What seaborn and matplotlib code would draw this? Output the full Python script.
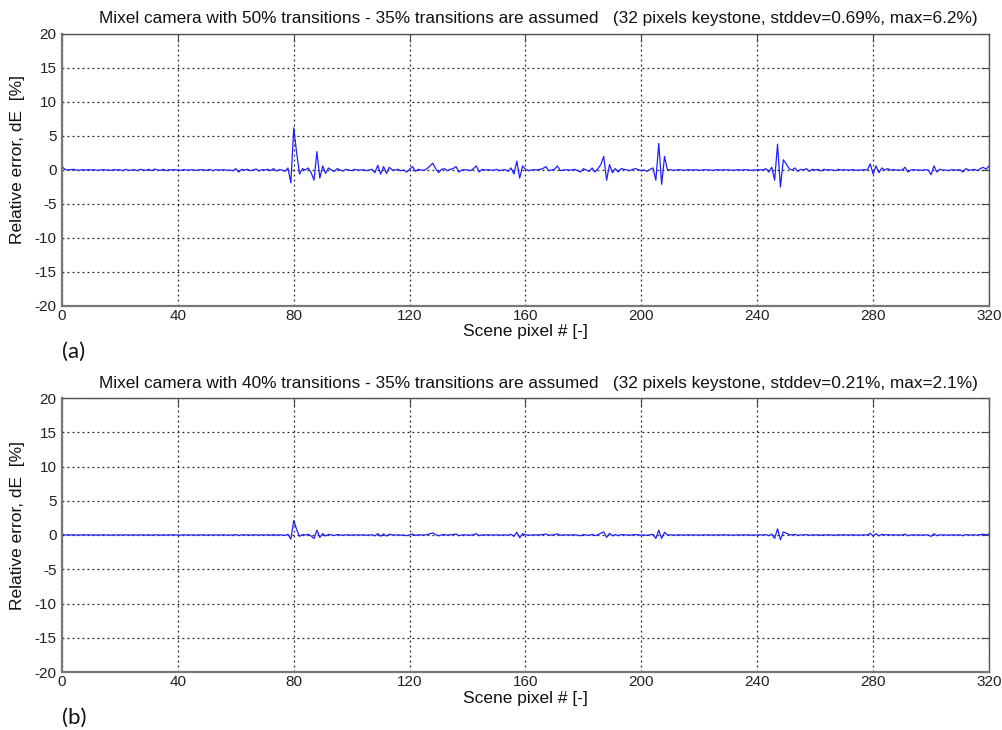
import matplotlib
matplotlib.use("Agg")
import matplotlib.pyplot as plt
import numpy as np
import pandas as pd
import seaborn as sns

# ---------------- data ----------------
scene_pixel = list(range(0, 321))

err_a = [
    0.5, 0.1, 0.0, 0.05, 0.1, 0.0, -0.05, 0.05, 0.0, 0.05,
    0.0, 0.05, -0.05, 0.0, 0.05, 0.0, 0.0, -0.05, 0.05, 0.0,
    0.05, -0.1, 0.1, -0.05, 0.0, 0.05, -0.1, 0.1, 0.0, -0.05,
    0.1, -0.1, 0.15, 0.0, -0.05, 0.1, -0.1, 0.05, 0.0, 0.05,
    0.0, -0.05, 0.05, 0.0, 0.0, 0.05, -0.05, 0.0, 0.05, 0.0,
    -0.05, 0.1, -0.1, 0.05, 0.0, 0.0, 0.05, -0.05, 0.0, -0.1,
    0.2, -0.3, 0.1, 0.0, 0.1, -0.1, 0.0, 0.15, -0.15, 0.05,
    0.0, 0.1, -0.1, 0.2, -0.15, 0.05, 0.0, -0.2, 0.3, -1.9,
    6.2, 2.5, -0.6, 0.2, 0.0, 0.3, -0.4, -1.5, 2.7, -1.2,
    0.6, -0.5, 0.3, 0.0, -0.2, 0.2, 0.0, -0.15, 0.1, 0.0,
    -0.1, 0.1, 0.0, 0.0, 0.05, -0.1, 0.0, 0.1, -0.4, 0.7,
    -0.6, 0.5, -0.5, 0.4, 0.0, 0.0, 0.1, -0.1, 0.0, -0.3,
    0.1, 0.5, -0.2, 0.1, 0.0, -0.05, 0.2, 0.6, 1.0, 0.2,
    -0.4, 0.1, 0.2, -0.1, 0.1, 0.2, 0.5, -0.3, 0.0, 0.05,
    0.0, -0.1, 0.2, 0.6, -0.3, 0.1, 0.0, 0.05, 0.0, -0.05,
    0.1, -0.1, 0.0, 0.05, -0.2, 0.3, -0.6, 1.3, -1.2, 0.6,
    0.1, -0.1, 0.0, 0.05, 0.0, 0.1, 0.2, 0.5, -0.1, 0.0,
    0.1, 0.6, -0.1, 0.0, 0.05, 0.0, 0.0, 0.1, -0.1, -0.3,
    0.2, 0.0, -0.2, 0.3, -0.3, 0.2, 0.8, 2.0, -1.5, 0.8,
    -0.4, 0.2, -0.3, 0.2, 0.1, 0.0, -0.1, 0.1, 0.2, 0.05,
    -0.1, 0.0, -0.2, 0.1, 0.3, -1.5, 3.9, -2.1, 2.0, 0.0,
    0.05, -0.05, 0.0, 0.05, 0.0, -0.05, 0.05, 0.0, 0.0, 0.05,
    -0.05, 0.0, 0.05, 0.0, 0.0, -0.05, 0.05, 0.0, 0.0, 0.05,
    0.0, 0.0, -0.05, 0.05, 0.0, 0.0, 0.05, 0.0, -0.05, 0.0,
    0.0, 0.05, 0.0, 0.2, -0.3, 0.4, -1.5, 3.8, -2.5, 1.5,
    0.9, 0.2, 0.0, 0.3, -0.2, 0.1, 0.0, 0.2, -0.2, 0.1,
    0.0, 0.1, -0.15, 0.1, 0.0, 0.05, 0.0, -0.1, 0.1, 0.0,
    0.05, 0.0, 0.0, 0.05, -0.05, 0.0, 0.0, 0.05, 0.0, 0.9,
    -0.6, 0.6, -0.4, 0.3, 0.0, 0.2, 0.0, 0.05, 0.0, 0.0,
    0.0, 0.4, -0.3, 0.0, 0.05, 0.0, 0.0, -0.05, 0.05, 0.0,
    -0.7, 0.6, -0.3, 0.1, 0.0, 0.0, -0.1, 0.05, 0.0, 0.0,
    0.05, -0.3, 0.2, 0.0, 0.0, 0.1, -0.1, 0.2, 0.4, 0.1,
    0.6,
]

err_b = [
    0.1, 0.0, 0.03, 0.0, 0.02, 0.0, -0.02, 0.03, 0.0, 0.02,
    0.0, 0.02, -0.02, 0.0, 0.02, 0.0, 0.0, -0.02, 0.02, 0.0,
    0.02, -0.03, 0.03, -0.02, 0.0, 0.02, -0.03, 0.03, 0.0, -0.02,
    0.03, -0.03, 0.04, 0.0, -0.02, 0.03, -0.03, 0.02, 0.0, 0.02,
    0.0, -0.02, 0.02, 0.0, 0.0, 0.02, -0.02, 0.0, 0.02, 0.0,
    -0.02, 0.03, -0.03, 0.02, 0.0, 0.0, 0.02, -0.02, 0.0, -0.03,
    0.06, -0.08, 0.03, 0.0, 0.03, -0.03, 0.0, 0.04, -0.04, 0.02,
    0.0, 0.03, -0.03, 0.05, -0.04, 0.02, 0.0, -0.06, 0.1, -0.6,
    2.1, 0.8, -0.2, 0.06, 0.0, 0.1, -0.15, -0.5, 0.7, -0.35,
    0.2, -0.15, 0.1, 0.0, -0.06, 0.06, 0.0, -0.05, 0.03, 0.0,
    -0.03, 0.03, 0.0, 0.0, 0.02, -0.03, 0.0, 0.03, -0.12, 0.2,
    -0.18, 0.15, -0.15, 0.12, 0.0, 0.0, 0.03, -0.03, 0.0, -0.1,
    0.03, 0.15, -0.06, 0.03, 0.0, -0.02, 0.06, 0.18, 0.3, 0.06,
    -0.12, 0.03, 0.06, -0.03, 0.03, 0.06, 0.15, -0.1, 0.0, 0.02,
    0.0, -0.03, 0.06, 0.18, -0.1, 0.03, 0.0, 0.02, 0.0, -0.02,
    0.03, -0.03, 0.0, 0.02, -0.06, 0.1, -0.2, 0.4, -0.4, 0.2,
    0.03, -0.03, 0.0, 0.02, 0.0, 0.03, 0.06, 0.15, -0.03, 0.0,
    0.03, 0.18, -0.03, 0.0, 0.02, 0.0, 0.0, 0.03, -0.03, -0.1,
    0.06, 0.0, -0.06, 0.1, -0.1, 0.06, 0.25, 0.45, -0.35, 0.25,
    -0.12, 0.06, -0.1, 0.06, 0.03, 0.0, -0.03, 0.03, 0.06, 0.02,
    -0.03, 0.0, -0.06, 0.03, 0.1, -0.5, 0.7, -0.5, 0.4, 0.0,
    0.02, -0.02, 0.0, 0.02, 0.0, -0.02, 0.02, 0.0, 0.0, 0.02,
    -0.02, 0.0, 0.02, 0.0, 0.0, -0.02, 0.02, 0.0, 0.0, 0.02,
    0.0, 0.0, -0.02, 0.02, 0.0, 0.0, 0.02, 0.0, -0.02, 0.0,
    0.0, 0.02, 0.0, 0.06, -0.1, 0.12, -0.5, 0.9, -0.7, 0.45,
    0.27, 0.06, 0.0, 0.1, -0.06, 0.03, 0.0, 0.06, -0.06, 0.03,
    0.0, 0.03, -0.05, 0.03, 0.0, 0.02, 0.0, -0.03, 0.03, 0.0,
    0.02, 0.0, 0.0, 0.02, -0.02, 0.0, 0.0, 0.02, 0.0, 0.25,
    -0.15, 0.18, -0.12, 0.1, 0.0, 0.06, 0.0, 0.02, 0.0, 0.0,
    0.0, 0.12, -0.1, 0.0, 0.02, 0.0, 0.0, -0.02, 0.02, 0.0,
    -0.2, 0.18, -0.1, 0.03, 0.0, 0.0, -0.03, 0.02, 0.0, 0.0,
    0.02, -0.1, 0.06, 0.0, 0.0, 0.03, -0.03, 0.06, 0.12, 0.03,
    0.15,
]

titles = [
    "Mixel camera with 50% transitions - 35% transitions are assumed   (32 pixels keystone, stddev=0.69%, max=6.2%)",
    "Mixel camera with 40% transitions - 35% transitions are assumed   (32 pixels keystone, stddev=0.21%, max=2.1%)",
]
panel_tags = ["(a)", "(b)"]
x_ticks = [0, 40, 80, 120, 160, 200, 240, 280, 320]
y_ticks = [-20, -15, -10, -5, 0, 5, 10, 15, 20]
x_label = "Scene pixel # [-]"
y_label = "Relative error, dE  [%]"

# ---------------- style ----------------
sns.set_style("white")
plt.rcParams["font.family"] = ["Liberation Sans", "DejaVu Sans"]

W, H = 1003, 730
fig = plt.figure(figsize=(W / 100, H / 100), dpi=100)

boxes = [(62, 34, 989, 306), (62, 398, 989, 672)]
title_y = [19, 384]
tag_y = [352, 718]
xlabel_y = [331, 698]
ylabel_y = [160, 525]

series = [err_a, err_b]
for i, (l, t, r, b) in enumerate(boxes):
    ax = fig.add_axes([l / W, 1 - b / H, (r - l) / W, (b - t) / H])
    df = pd.DataFrame({"pixel": scene_pixel, "err": series[i]})
    sns.lineplot(data=df, x="pixel", y="err", ax=ax, color="#1f1fff",
                 linewidth=0.9, estimator=None, sort=False)
    ax.set_xlim(0, 320)
    ax.set_ylim(-20, 20)
    ax.set_xticks(x_ticks)
    ax.set_yticks(y_ticks)
    ax.set_xticklabels([str(v) for v in x_ticks])
    ax.set_yticklabels([str(v) for v in y_ticks])
    ax.grid(True, linestyle=(0, (1.5, 2.5)), color="#222222", linewidth=0.9)
    ax.tick_params(direction="in", length=6, width=0.8, color="#444444",
                   labelsize=11, pad=2, top=True, right=True,
                   labelcolor="#222222")
    ax.tick_params(axis="y", pad=4)
    ax.set_xlabel("")
    ax.set_ylabel("")
    for side in ["left", "bottom"]:
        ax.spines[side].set_color("#777777")
        ax.spines[side].set_linewidth(1.6)
    for side in ["top", "right"]:
        ax.spines[side].set_color("#555555")
        ax.spines[side].set_linewidth(1.0)
    fig.text(538 / W, 1 - title_y[i] / H, titles[i], ha="center", va="center",
             fontsize=12.4, color="#111111")
    fig.text(525 / W, 1 - xlabel_y[i] / H, x_label, ha="center", va="center",
             fontsize=12.5, color="#111111")
    fig.text(18 / W, 1 - ylabel_y[i] / H, y_label, ha="center", va="center",
             rotation=90, fontsize=12.5, color="#111111")
    fig.text(62 / W, 1 - tag_y[i] / H, panel_tags[i], ha="left", va="center",
             fontsize=16, color="#111111", family=["Lato", "DejaVu Sans"])

fig.savefig("out.png", dpi=100, facecolor="white")
